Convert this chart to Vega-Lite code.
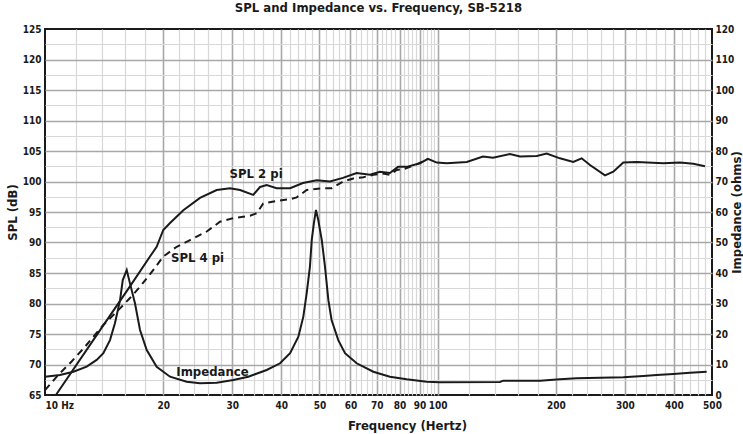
{
  "$schema": "https://vega.github.io/schema/vega-lite/v6.json",
  "width": 667,
  "height": 366,
  "autosize": "none",
  "padding": {"left": 45, "top": 29, "right": 31, "bottom": 39},
  "title": {"text": "SPL and Impedance vs. Frequency, SB-5218", "fontSize": 13, "fontWeight": "bold", "font": "Liberation Sans Narrow, DejaVu Sans Condensed, sans-serif", "color": "#1a1a1a", "offset": 9},
  "config": {
    "view": {"stroke": "#1a1a1a", "strokeWidth": 2},
    "font": "Liberation Sans Narrow, DejaVu Sans Condensed, sans-serif",
    "axis": {"labelFont": "Liberation Sans Narrow, DejaVu Sans Condensed, sans-serif", "labelFontWeight": "bold", "labelFontSize": 10, "labelColor": "#1a1a1a", "titleFont": "Liberation Sans Narrow, DejaVu Sans Condensed, sans-serif", "titleFontSize": 13, "titleFontWeight": "bold", "titleColor": "#1a1a1a", "ticks": false, "domain": false, "labelOverlap": false, "labelBound": false, "labelFlush": false}
  },
  "datasets": {
    "spl2": [
      {"f": 10.66, "v": 65}, {"f": 13.8, "v": 75.6}, {"f": 16.46, "v": 82.8}, {"f": 18.51, "v": 87.7}, {"f": 19.25, "v": 89.3}, {"f": 20.01, "v": 92.05}, {"f": 20.82, "v": 93.2}, {"f": 22.51, "v": 95.3}, {"f": 24.82, "v": 97.3}, {"f": 27.37, "v": 98.6}, {"f": 29.6, "v": 98.9}, {"f": 31.4, "v": 98.6}, {"f": 33.9, "v": 97.8}, {"f": 35.3, "v": 99.1}, {"f": 36.7, "v": 99.4}, {"f": 38.9, "v": 98.9}, {"f": 42.1, "v": 98.9}, {"f": 45.4, "v": 99.75}, {"f": 49.2, "v": 100.2}, {"f": 53.2, "v": 100.0}, {"f": 57.4, "v": 100.6}, {"f": 62.2, "v": 101.4}, {"f": 67.3, "v": 101.1}, {"f": 71.3, "v": 101.6}, {"f": 75.6, "v": 101.4}, {"f": 79.3, "v": 102.4}, {"f": 83.4, "v": 102.4}, {"f": 90.2, "v": 103.0}, {"f": 94.5, "v": 103.7}, {"f": 99.5, "v": 103.1}, {"f": 105.5, "v": 103.0}, {"f": 118.7, "v": 103.2}, {"f": 130.5, "v": 104.1}, {"f": 138.4, "v": 103.9}, {"f": 152.9, "v": 104.5}, {"f": 162.2, "v": 104.1}, {"f": 178.9, "v": 104.2}, {"f": 189.6, "v": 104.6}, {"f": 205.0, "v": 103.8}, {"f": 221.6, "v": 103.2}, {"f": 232.8, "v": 103.8}, {"f": 244.4, "v": 102.7}, {"f": 266.9, "v": 101.0}, {"f": 280.3, "v": 101.6}, {"f": 297.2, "v": 103.1}, {"f": 321.5, "v": 103.2}, {"f": 375.7, "v": 103.0}, {"f": 414.4, "v": 103.1}, {"f": 448.0, "v": 102.9}, {"f": 479.8, "v": 102.5}
    ],
    "spl4": [
      {"f": 10.0, "v": 65.8}, {"f": 10.81, "v": 68.3}, {"f": 11.69, "v": 70.5}, {"f": 12.64, "v": 72.9}, {"f": 14.08, "v": 76.5}, {"f": 15.53, "v": 79.2}, {"f": 16.46, "v": 80.9}, {"f": 17.46, "v": 82.75}, {"f": 18.88, "v": 85.5}, {"f": 20.01, "v": 87.7}, {"f": 21.65, "v": 89.3}, {"f": 23.41, "v": 90.4}, {"f": 25.82, "v": 91.8}, {"f": 27.91, "v": 93.4}, {"f": 30.18, "v": 94.0}, {"f": 33.28, "v": 94.4}, {"f": 34.61, "v": 94.8}, {"f": 35.97, "v": 96.4}, {"f": 38.9, "v": 96.8}, {"f": 42.1, "v": 97.1}, {"f": 43.77, "v": 97.4}, {"f": 46.41, "v": 98.6}, {"f": 51.16, "v": 98.9}, {"f": 53.74, "v": 98.9}, {"f": 57.5, "v": 100.0}, {"f": 61.0, "v": 100.5}, {"f": 64.7, "v": 100.7}, {"f": 68.6, "v": 101.1}, {"f": 72.7, "v": 101.3}, {"f": 75.6, "v": 101.1}, {"f": 78.7, "v": 101.9}, {"f": 81.7, "v": 102.0}, {"f": 88.5, "v": 102.8}, {"f": 94.5, "v": 103.7}
    ],
    "imp": [
      {"f": 10.0, "z": 6.0}, {"f": 10.92, "z": 6.56}, {"f": 11.81, "z": 7.64}, {"f": 12.77, "z": 9.28}, {"f": 13.54, "z": 11.5}, {"f": 14.08, "z": 13.7}, {"f": 14.64, "z": 18.0}, {"f": 15.07, "z": 23.5}, {"f": 15.53, "z": 31.1}, {"f": 15.78, "z": 37.7}, {"f": 16.15, "z": 41.0}, {"f": 16.46, "z": 36.6}, {"f": 16.95, "z": 30.1}, {"f": 17.46, "z": 21.3}, {"f": 18.16, "z": 14.75}, {"f": 19.25, "z": 9.28}, {"f": 20.82, "z": 6.0}, {"f": 22.96, "z": 4.36}, {"f": 24.82, "z": 3.84}, {"f": 27.37, "z": 4.03}, {"f": 30.18, "z": 4.92}, {"f": 32.95, "z": 6.0}, {"f": 36.7, "z": 8.2}, {"f": 39.7, "z": 10.4}, {"f": 42.1, "z": 13.7}, {"f": 44.2, "z": 19.1}, {"f": 45.5, "z": 25.7}, {"f": 46.4, "z": 33.3}, {"f": 47.3, "z": 42.1}, {"f": 47.8, "z": 50.8}, {"f": 48.4, "z": 56.3}, {"f": 49.0, "z": 60.7}, {"f": 49.66, "z": 57.4}, {"f": 50.7, "z": 50.8}, {"f": 51.66, "z": 42.1}, {"f": 52.7, "z": 31.1}, {"f": 53.7, "z": 24.6}, {"f": 55.85, "z": 18.0}, {"f": 58.1, "z": 13.7}, {"f": 62.2, "z": 10.4}, {"f": 68.6, "z": 7.64}, {"f": 75.6, "z": 6.0}, {"f": 83.4, "z": 5.15}, {"f": 93.8, "z": 4.36}, {"f": 101.4, "z": 4.16}, {"f": 144.2, "z": 4.26}, {"f": 147.0, "z": 4.69}, {"f": 182.3, "z": 4.69}, {"f": 205.0, "z": 5.15}, {"f": 226.1, "z": 5.48}, {"f": 297.2, "z": 5.8}, {"f": 334.2, "z": 6.2}, {"f": 361.5, "z": 6.56}, {"f": 398.5, "z": 6.9}, {"f": 439.5, "z": 7.3}, {"f": 484.6, "z": 7.6}
    ],
    "labels": [
      {"label": "SPL 2 pi", "f": 34.5, "v": 101.2},
      {"label": "SPL 4 pi", "f": 24.46, "v": 87.5},
      {"label": "Impedance", "f": 26.7, "v": 68.85}
    ]
  },
  "encoding": {
    "x": {
      "field": "f", "type": "quantitative",
      "scale": {"type": "log", "domain": [10, 500], "nice": false},
      "axis": {
        "title": "Frequency (Hertz)",
        "titleX": 362,
        "titlePadding": 9,
        "labelPadding": 5,
        "values": [10, 12, 14, 16, 18, 20, 22, 24, 26, 28, 30, 32, 34, 36, 38, 40, 42, 44, 46, 48, 50, 52, 54, 56, 58, 60, 62, 64, 66, 68, 70, 72, 74, 76, 78, 80, 82, 84, 86, 88, 90, 92, 94, 96, 98, 100, 120, 140, 160, 180, 200, 220, 240, 260, 280, 300, 320, 340, 360, 380, 400, 420, 440, 460, 480, 500],
        "grid": true,
        "gridColor": {"condition": {"test": "datum.value < 100 ? datum.value % 10 == 0 : datum.value % 100 == 0", "value": "#a8a8a8"}, "value": "#d8d8d8"},
        "gridWidth": {"condition": {"test": "datum.value < 100 ? datum.value % 10 == 0 : datum.value % 100 == 0", "value": 1.6}, "value": 1.2},
        "gridOpacity": {"condition": {"test": "datum.value == 10 || datum.value == 500", "value": 0}, "value": 1},
        "labelExpr": "datum.value == 10 ? '10  Hz' : ((datum.value < 100 ? datum.value % 10 == 0 : datum.value % 100 == 0) ? '' + datum.value : '')",
        "labelAlign": {"condition": {"test": "datum.value == 10", "value": "left"}, "value": "center"}
      }
    }
  },
  "layer": [
    {
      "encoding": {
        "y": {
          "field": "v", "type": "quantitative",
          "scale": {"domain": [65, 125], "nice": false, "zero": false},
          "axis": {
            "title": "SPL (dB)",
            "minExtent": 20,
            "maxExtent": 20,
            "titlePadding": 6,
            "labelPadding": 4,
            "values": [65, 67.5, 70, 72.5, 75, 77.5, 80, 82.5, 85, 87.5, 90, 92.5, 95, 97.5, 100, 102.5, 105, 107.5, 110, 112.5, 115, 117.5, 120, 122.5, 125],
            "grid": true,
            "gridColor": {"condition": {"test": "datum.value % 5 == 0", "value": "#a8a8a8"}, "value": "#d8d8d8"},
            "gridWidth": {"condition": {"test": "datum.value % 5 == 0", "value": 1.6}, "value": 1.2},
            "gridOpacity": {"condition": {"test": "datum.value == 65 || datum.value == 125", "value": 0}, "value": 1},
            "labelExpr": "datum.value % 5 == 0 ? '' + datum.value : ''"
          }
        }
      },
      "layer": [
        {"data": {"name": "spl2"}, "mark": {"type": "line", "color": "#1a1a1a", "strokeWidth": 2}},
        {"data": {"name": "spl4"}, "mark": {"type": "line", "color": "#1a1a1a", "strokeWidth": 2, "strokeDash": [7, 5]}},
        {"data": {"name": "labels"}, "mark": {"type": "text", "fontSize": 13, "fontWeight": "bold", "color": "#1a1a1a", "font": "Liberation Sans Narrow, DejaVu Sans Condensed, sans-serif"}, "encoding": {"text": {"field": "label"}}}
      ]
    },
    {
      "data": {"name": "imp"},
      "mark": {"type": "line", "color": "#1a1a1a", "strokeWidth": 2},
      "encoding": {
        "y": {
          "field": "z", "type": "quantitative",
          "scale": {"domain": [0, 120], "nice": false},
          "axis": {
            "orient": "right",
            "title": "Impedance (ohms)",
            "titleAngle": -90,
            "titleBaseline": "top",
            "minExtent": 18,
            "maxExtent": 18,
            "titlePadding": 0,
            "labelPadding": 3,
            "grid": false,
            "values": [0, 10, 20, 30, 40, 50, 60, 70, 80, 90, 100, 110, 120]
          }
        }
      }
    }
  ],
  "resolve": {"scale": {"y": "independent"}}
}
